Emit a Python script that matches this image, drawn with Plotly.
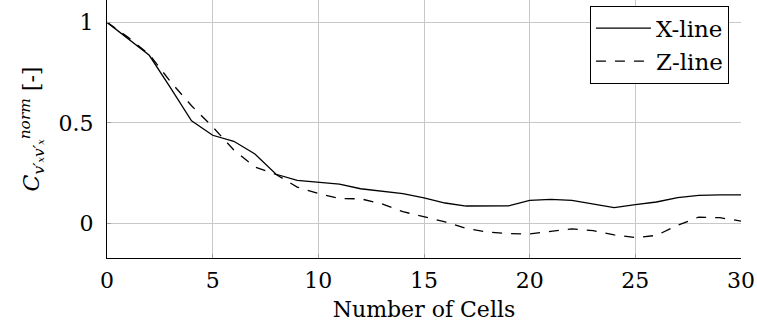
import plotly.graph_objects as go

cells = list(range(0, 31))
x_line = [1.0, 0.92, 0.836, 0.675, 0.51, 0.438, 0.408, 0.345, 0.244, 0.214, 0.205,
          0.195, 0.172, 0.16, 0.148, 0.126, 0.101, 0.086, 0.086, 0.087, 0.114,
          0.119, 0.114, 0.096, 0.078, 0.093, 0.106, 0.128, 0.139, 0.141, 0.141]
z_line = [1.0, 0.925, 0.84, 0.705, 0.585, 0.48, 0.365, 0.28, 0.243, 0.18, 0.148,
          0.123, 0.122, 0.097, 0.058, 0.033, 0.007, -0.026, -0.043, -0.051, -0.053,
          -0.04, -0.028, -0.036, -0.058, -0.071, -0.06, -0.01, 0.031, 0.028, 0.011]

x_ticks = [0, 5, 10, 15, 20, 25, 30]
y_ticks = [0, 0.5, 1]
y_tick_text = ["0", "0.5", "1"]

FONT = "DejaVu Serif"
FS = 22

fig = go.Figure()
fig.add_trace(go.Scatter(x=cells, y=x_line, mode="lines", name="X-line",
                         line=dict(color="black", width=1.3)))
fig.add_trace(go.Scatter(x=cells, y=z_line, mode="lines", name="Z-line",
                         line=dict(color="black", width=1.3, dash="10px,9px")))

fig.update_layout(
    width=757, height=329,
    margin=dict(l=107, r=16, t=0, b=71),
    paper_bgcolor="white", plot_bgcolor="white",
    font=dict(family=FONT, size=FS, color="black"),
    showlegend=True,
    legend=dict(x=0.981, y=0.978, xanchor="right", yanchor="top",
                bordercolor="black", borderwidth=1, bgcolor="white",
                font=dict(family=FONT, size=23), tracegroupgap=0,
                itemwidth=55),
    xaxis=dict(range=[0, 30], tickvals=x_ticks, showgrid=True, gridcolor="#c8c8c8",
               gridwidth=1, zeroline=False, showline=True, linecolor="black",
               linewidth=1.3, ticks="inside", ticklen=4, tickcolor="#a0a0a0",
               ticklabelstandoff=2,
               title=dict(text="Number of Cells", standoff=10,
                          font=dict(family=FONT, size=FS))),
    yaxis=dict(range=[-0.1726, 1.111], tickvals=y_ticks, ticktext=y_tick_text,
               showgrid=True, gridcolor="#c8c8c8", gridwidth=1, zeroline=False,
               showline=True, linecolor="black", linewidth=1.3, ticks="inside",
               ticklen=4, tickcolor="#a0a0a0", ticklabelstandoff=8,
               title=dict(text="<i>C</i><sub><i>v′ₓv′ₓ</i></sub><sup><i>norm</i></sup> [-]",
                          standoff=12, font=dict(family=FONT, size=FS))),
)

fig.write_html("out.html")
